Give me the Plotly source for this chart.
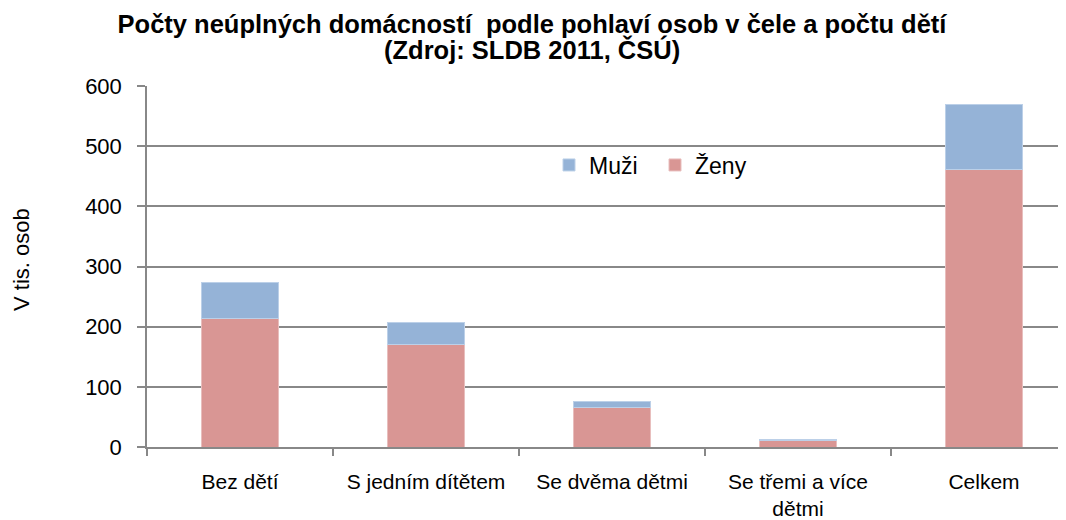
import plotly.graph_objects as go

categories = ["Bez dětí", "S jedním dítětem", "Se dvěma dětmi", "Se třemi a více<br>dětmi", "Celkem"]
zeny = [213, 170, 66, 10, 462]
muzi = [60, 37, 10, 3, 107]
y_ticks = [0, 100, 200, 300, 400, 500, 600]

FONT = "Liberation Sans, Arial, sans-serif"

# page body has an 8px default margin; layout positions compensate for it
OFF = 8
W, H = 1066 - OFF, 520 - OFF
PL, PT = 147 - OFF, 86 - OFF
PB = H - (447 - OFF)
PW = W - PL
PH = H - PT - PB

fig = go.Figure()
fig.add_trace(go.Bar(
    x=categories, y=zeny, name="Ženy",
    marker=dict(color="#D99694", line=dict(color="#E8BEBD", width=1)),
    width=0.41,
))
fig.add_trace(go.Bar(
    x=categories, y=muzi, name="Muži",
    marker=dict(color="#95B3D7", line=dict(color="#BCD0E8", width=1)),
    width=0.41,
))

fig.update_layout(
    barmode="stack",
    width=W, height=H,
    margin=dict(l=PL, r=0, t=PT, b=PB, pad=0),
    paper_bgcolor="white", plot_bgcolor="white",
    font=dict(family=FONT, color="black"),
    title=dict(
        text="<b>Počty neúplných domácností  podle pohlaví osob v čele a počtu dětí</b>",
        x=(532 - OFF) / W, xref="container", xanchor="center",
        y=1 - (24 - OFF) / H, yref="container", yanchor="middle",
        font=dict(size=25.5, family=FONT, color="black"),
    ),
    showlegend=True,
    legend=dict(
        orientation="h", traceorder="reversed",
        x=(549 - 147) / PW, y=(447 - 165) / PH, xanchor="left", yanchor="middle",
        font=dict(size=23, family=FONT),
        bgcolor="rgba(0,0,0,0)",
        entrywidth=61, entrywidthmode="pixels",
    ),
    annotations=[
        dict(
            text="<b>(Zdroj: SLDB 2011, ČSÚ)</b>",
            xref="paper", yref="paper",
            x=(532 - 147) / PW, y=(447 - 49) / PH,
            xanchor="center", yanchor="middle", showarrow=False,
            font=dict(size=25.5, family=FONT, color="black"),
        ),
        dict(
            text="V tis. osob", textangle=-90,
            xref="paper", yref="paper",
            x=(22 - 147) / PW, y=(447 - 260) / PH,
            xanchor="center", yanchor="middle", showarrow=False,
            font=dict(size=22, family=FONT, color="black"),
        ),
    ],
)

fig.update_xaxes(
    range=[-0.5, -0.5 + PW / 186.0], automargin=False,
    showline=True, linecolor="#888888", linewidth=1.5,
    ticks="outside", tickson="boundaries", ticklen=7, tickcolor="#888888", tickwidth=1.5,
    tickfont=dict(size=21, family=FONT, color="black"),
    ticklabelstandoff=15,
    showgrid=False,
)
fig.update_yaxes(
    range=[0, 600], tickvals=y_ticks, automargin=False,
    showline=True, linecolor="#888888", linewidth=1.5,
    ticks="outside", ticklen=8, tickcolor="#888888", tickwidth=1.5,
    showgrid=True, gridcolor="#888888", gridwidth=1.5,
    zeroline=False,
    tickfont=dict(size=22, family=FONT, color="black"),
    ticklabelstandoff=11,
)

fig.write_html("out.html")
